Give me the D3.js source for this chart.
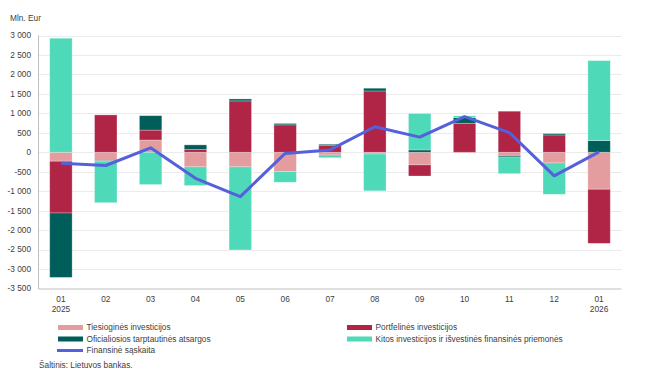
<html>
<head>
<script src="https://d3js.org/d3.v7.min.js"></script>
<style>
body { margin: 0; background: #fff; }
svg { display: block; }
text { font-family: "Liberation Sans", Arial, sans-serif; fill: #404040; }
</style>
</head>
<body>
<svg></svg>
<script>

var width = 652;
var height = 385;

// Data (mln. Eur)
var months = ["01", "02", "03", "04", "05", "06", "07", "08", "09", "10", "11", "12", "01"];
var years = ["2025", "", "", "", "", "", "", "", "", "", "", "", "2026"];

var tiesiogines = [-230, -215, 315, -375, -375, -495, -70, -45, -325, -15, -85, -275, -950];
var portfelines = [-1330, 960, 255, 70, 1320, 705, 170, 1575, -285, 745, 1055, 445, -1390];
var oficialiosios = [-1655, -25, 370, 120, 50, 35, 35, 70, 60, 145, -35, 35, 300];
var kitos = [2930, -1055, -830, -480, -2135, -275, -70, -945, 935, 45, -430, -805, 2055];
var finansine = [-280, -340, 115, -670, -1140, -30, 60, 655, 390, 915, 505, -605, 10];

var yTicks = [-3500, -3000, -2500, -2000, -1500, -1000, -500, 0, 500, 1000, 1500, 2000, 2500, 3000];

var seriesNames = ["Tiesioginės investicijos", "Portfelinės investicijos",
  "Oficialiosios tarptautinės atsargos", "Kitos investicijos ir išvestinės finansinės priemonės"];
var lineName = "Finansinė sąskaita";
var colors = ["#e39d9f", "#b02445", "#005e5a", "#4ed9b8"];
var lineColor = "#5560dc";

var svg = d3.select("svg").attr("width", width).attr("height", height);

var plotLeft = 38.5, plotRight = 621.5, plotTop = 35.5, plotBottom = 288.5;

var xScale = d3.scaleBand()
  .domain(d3.range(months.length))
  .range([plotLeft, plotRight])
  .paddingInner(0.5)
  .paddingOuter(0.25);

var yScale = d3.scaleLinear()
  .domain([-3500, 3000])
  .range([plotBottom, plotTop]);

var locale = d3.formatLocale({ decimal: ",", thousands: " ", grouping: [3], currency: ["", ""], minus: "-" });
var fmt = locale.format(",d");

// Gridlines
svg.append("g").selectAll("line").data(yTicks.filter(function (t) { return t > -3500; }))
  .enter().append("line")
  .attr("x1", plotLeft).attr("x2", plotRight)
  .attr("y1", function (d) { return Math.round(yScale(d)) + 0.5; })
  .attr("y2", function (d) { return Math.round(yScale(d)) + 0.5; })
  .style("stroke", "#ebebeb").style("stroke-width", 1);

// Stacked bars
var table = months.map(function (m, i) {
  return { i: i, s0: tiesiogines[i], s1: portfelines[i], s2: oficialiosios[i], s3: kitos[i] };
});

var stack = d3.stack()
  .keys(["s0", "s1", "s2", "s3"])
  .offset(d3.stackOffsetDiverging);

var layers = stack(table);

svg.append("g").selectAll("g").data(layers).enter().append("g")
  .style("fill", function (d, k) { return colors[k]; })
  .selectAll("rect").data(function (d) { return d; }).enter().append("rect")
  .attr("x", function (d) { return xScale(d.data.i); })
  .attr("width", xScale.bandwidth())
  .attr("y", function (d) { return yScale(Math.max(d[0], d[1])); })
  .attr("height", function (d) { return Math.abs(yScale(d[0]) - yScale(d[1])); })
  .style("stroke", "#ffffff").style("stroke-opacity", 0.35).style("stroke-width", 0.8);

// Line
var line = d3.line()
  .x(function (d, i) { return xScale(i) + xScale.bandwidth() / 2; })
  .y(function (d) { return yScale(d); });

svg.append("path").datum(finansine)
  .attr("d", line)
  .style("fill", "none")
  .style("stroke", lineColor)
  .style("stroke-width", 3)
  .style("stroke-linejoin", "round");

// Axes lines
svg.append("line").attr("x1", plotLeft).attr("x2", plotLeft).attr("y1", plotTop).attr("y2", plotBottom + 0.5)
  .style("stroke", "#bfbfbf").style("stroke-width", 1);
svg.append("line").attr("x1", plotLeft).attr("x2", plotRight).attr("y1", plotBottom + 0.5).attr("y2", plotBottom + 0.5)
  .style("stroke", "#bfbfbf").style("stroke-width", 1.2);

// Y labels
svg.append("g").selectAll("text").data(yTicks).enter().append("text")
  .attr("x", 31)
  .attr("y", function (d) { return yScale(d); })
  .attr("dy", "0.35em")
  .attr("text-anchor", "end")
  .style("font-size", "8.3px")
  .text(function (d) { return fmt(d); });

svg.append("text").attr("x", 10).attr("y", 18).attr("dy", "0.35em")
  .style("font-size", "8.3px").text("Mln. Eur");

// X labels
svg.append("g").selectAll("text").data(months).enter().append("text")
  .attr("x", function (d, i) { return xScale(i) + xScale.bandwidth() / 2; })
  .attr("y", 299)
  .attr("dy", "0.35em")
  .attr("text-anchor", "middle")
  .style("font-size", "8.3px")
  .text(function (d) { return d; });

svg.append("g").selectAll("text").data(years).enter().append("text")
  .attr("x", function (d, i) { return xScale(i) + xScale.bandwidth() / 2; })
  .attr("y", 309.5)
  .attr("dy", "0.35em")
  .attr("text-anchor", "middle")
  .style("font-size", "8.3px")
  .text(function (d) { return d; });

// Legend
var legendPos = [[58, 327.5], [347, 327.5], [58, 339], [347, 339]];
var legend = svg.append("g");
seriesNames.forEach(function (name, k) {
  legend.append("rect")
    .attr("x", legendPos[k][0]).attr("y", legendPos[k][1] - 2.5)
    .attr("width", 25).attr("height", 5)
    .style("fill", colors[k]);
  legend.append("text")
    .attr("x", legendPos[k][0] + 28.5).attr("y", legendPos[k][1])
    .attr("dy", "0.35em")
    .style("font-size", "8.3px")
    .text(name);
});
legend.append("line")
  .attr("x1", 57).attr("x2", 83).attr("y1", 350.5).attr("y2", 350.5)
  .style("stroke", lineColor).style("stroke-width", 3);
legend.append("text")
  .attr("x", 86.5).attr("y", 350.5).attr("dy", "0.35em")
  .style("font-size", "8.3px")
  .text(lineName);

svg.append("text").attr("x", 39).attr("y", 365.5).attr("dy", "0.35em")
  .style("font-size", "8.3px").text("Šaltinis: Lietuvos bankas.");

</script>
</body>
</html>
